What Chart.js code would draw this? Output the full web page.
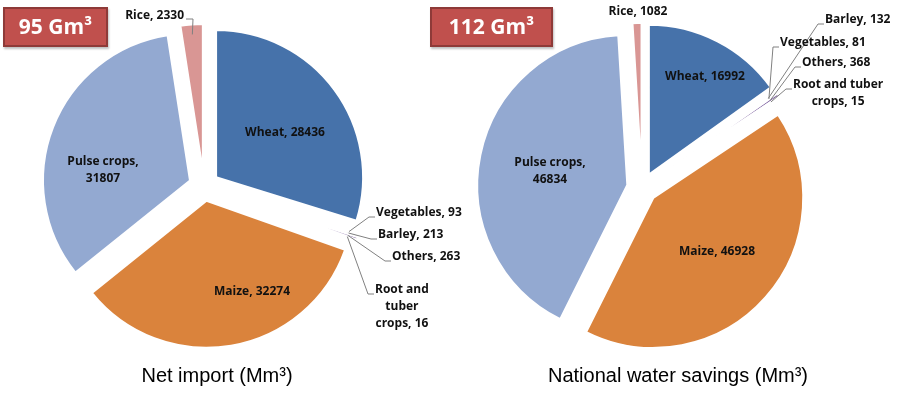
<!DOCTYPE html>
<html>
<head>
<meta charset="utf-8">
<script src="https://cdn.jsdelivr.net/npm/chart.js@4.4.0/dist/chart.umd.min.js"></script>
<style>
  body { margin: 0; background: #fff; }
  #wrap { position: relative; width: 899px; height: 400px; overflow: hidden; }
  canvas { position: absolute; left: 0; top: 0; }
  .box { position: absolute; top: 7px; height: 40px; background: #C0504D; border: 2px solid #8E3A38;
         box-sizing: border-box; color: #fff; font: bold 21px 'Open Sans', sans-serif; line-height: 35px;
         text-align: center; box-shadow: 1px 2px 2px rgba(0,0,0,0.25); }
  .box sup { font-size: 13px; vertical-align: 7px; line-height: 0; }
  .title { position: absolute; top: 362px; width: 400px; font: 20px 'Liberation Sans', Arial, sans-serif;
           color: #000; text-align: center; line-height: 26px; }
</style>
</head>
<body>
<div id="wrap">
  <canvas id="left-pie" width="899" height="400"></canvas>
  <canvas id="right-pie" width="899" height="400"></canvas>
  <div class="box" style="left:3px;width:105px;">95 Gm³</div>
  <div class="box" style="left:430px;width:123px;">112 Gm³</div>
  <div class="title" style="left:17px;">Net import (Mm³)</div>
  <div class="title" style="left:478px;">National water savings (Mm³)</div>
</div>
<script>
// values in Mm3
var leftCategories = ['Wheat', 'Vegetables', 'Barley', 'Others', 'Root and tuber crops', 'Maize', 'Pulse crops', 'Rice'];
var leftValues = [28436, 93, 213, 263, 16, 32274, 31807, 2330];

var rightCategories = ['Wheat', 'Barley', 'Vegetables', 'Others', 'Root and tuber crops', 'Maize', 'Pulse crops', 'Rice'];
var rightValues = [16992, 132, 81, 368, 15, 46928, 46834, 1082];

var cropColors = {
    'Wheat': '#4672AA',
    'Vegetables': '#9BBB59',
    'Barley': '#A5A5A5',
    'Others': '#8064A2',
    'Root and tuber crops': '#4BACC6',
    'Maize': '#DA833C',
    'Pulse crops': '#93A9D1',
    'Rice': '#D99694'
};

// where each label sits, relative to the pie centre
var leftSpots = [
    {dx: 81, dy: -53},
    {dx: 172, dy: 27, leader: 'left'},
    {dx: 174, dy: 49, leader: 'left'},
    {dx: 188, dy: 71, leader: 'left'},
    {dx: 171, dy: 104, leader: 'left', wrap: 66},
    {dx: 48, dy: 106},
    {dx: -101, dy: -16, wrap: 80},
    {dx: -20, dy: -170, leader: 'right'}
];
var rightSpots = [
    {dx: 63, dy: -111},
    {dx: 183, dy: -168, leader: 'left'},
    {dx: 138, dy: -145, leader: 'left'},
    {dx: 160, dy: -125, leader: 'left'},
    {dx: 151, dy: -103, leader: 'left', wrap: 110},
    {dx: 75, dy: 64},
    {dx: -92, dy: -17, wrap: 80},
    {dx: -4, dy: -176}
];

// pull every slice out from the centre by a fixed distance
var explodePlugin = {
    id: 'explode',
    beforeDatasetDraw: function(chart, args, opts) {
        var ctx = chart.ctx;
        args.meta.data.forEach(function(arc) {
            var mid = (arc.startAngle + arc.endAngle) / 2;
            ctx.save();
            ctx.translate(Math.cos(mid) * opts.distance, Math.sin(mid) * opts.distance);
            arc.draw(ctx);
            ctx.restore();
        });
        return false;
    }
};

function wrapText(ctx, text, width) {
    if (!width) return [text];
    var words = text.split(' ');
    var lines = [];
    var line = '';
    words.forEach(function(w) {
        var test = line ? line + ' ' + w : w;
        if (line && ctx.measureText(test).width > width) {
            lines.push(line);
            line = w;
        } else {
            line = test;
        }
    });
    lines.push(line);
    return lines;
}

var labelPlugin = {
    id: 'sliceLabels',
    afterDatasetsDraw: function(chart, args, opts) {
        var ctx = chart.ctx;
        var meta = chart.getDatasetMeta(0);
        var labels = chart.data.labels;
        var values = chart.data.datasets[0].data;
        var ex = chart.options.plugins.explode.distance;
        var lh = 17;
        ctx.save();
        ctx.font = 'bold 12px "Open Sans", sans-serif';
        ctx.textBaseline = 'middle';
        ctx.fillStyle = '#111';
        meta.data.forEach(function(arc, i) {
            var spot = opts.spots[i];
            var cx = arc.x, cy = arc.y;
            var lines = wrapText(ctx, labels[i] + ', ' + values[i], spot.wrap);
            var widths = lines.map(function(l) { return ctx.measureText(l).width; });
            var blockW = Math.max.apply(null, widths);
            var x = cx + spot.dx, y = cy + spot.dy;
            var mid = (arc.startAngle + arc.endAngle) / 2;
            var r = arc.outerRadius + ex - 10;
            var ax = cx + Math.cos(mid) * r, ay = cy + Math.sin(mid) * r;
            var blockCx, firstY;
            if (spot.leader === 'left') {
                blockCx = x + blockW / 2;
                firstY = y;
                ctx.strokeStyle = '#808080';
                ctx.lineWidth = 1;
                ctx.beginPath();
                ctx.moveTo(ax, ay);
                ctx.lineTo(x - 7, y + 4);
                ctx.lineTo(x - 1, y + 4);
                ctx.stroke();
            } else if (spot.leader === 'right') {
                blockCx = x - blockW / 2;
                firstY = y;
                ctx.strokeStyle = '#808080';
                ctx.lineWidth = 1;
                ctx.beginPath();
                ctx.moveTo(ax, ay);
                ctx.lineTo(x + 9, y + 3);
                ctx.lineTo(x + 2, y + 3);
                ctx.stroke();
            } else {
                blockCx = x;
                firstY = y - (lines.length - 1) * lh / 2;
            }
            ctx.textAlign = 'center';
            lines.forEach(function(l, k) {
                ctx.fillText(l, blockCx, firstY + k * lh);
            });
        });
        ctx.restore();
    }
};

function makePie(id, categories, values, spots, radius, padding) {
    return new Chart(document.getElementById(id), {
        type: 'pie',
        data: {
            labels: categories,
            datasets: [{
                data: values,
                backgroundColor: categories.map(function(c) { return cropColors[c]; }),
                borderColor: '#ffffff',
                borderWidth: 2,
                radius: radius
            }]
        },
        options: {
            responsive: false,
            animation: false,
            layout: { padding: padding },
            plugins: {
                legend: { display: false },
                tooltip: { enabled: false },
                explode: { distance: 15 },
                sliceLabels: { spots: spots }
            }
        },
        plugins: [explodePlugin, labelPlugin]
    });
}

makePie('left-pie', leftCategories, leftValues, leftSpots, 147, {left: 0, right: 491, top: 0, bottom: 28});
makePie('right-pie', rightCategories, rightValues, rightSpots, 150, {left: 385, right: 0, top: 0, bottom: 24});
</script>
</body>
</html>
